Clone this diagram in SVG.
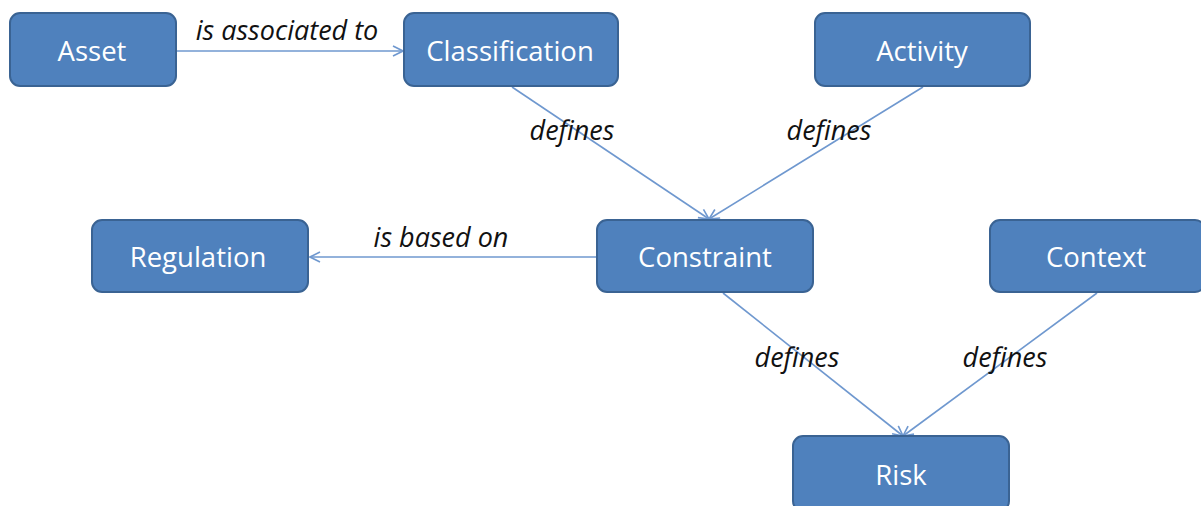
<svg xmlns="http://www.w3.org/2000/svg" width="1201" height="506" viewBox="0 0 1201 506">
<style>
.node rect{fill:#4f81bd;stroke:#3a6393;stroke-width:2}
.node text{fill:#fff;font-family:"Open Sans","Liberation Sans",sans-serif;font-size:27.5px;text-anchor:middle;dominant-baseline:central}
.edge line{stroke:#6f98cf;stroke-width:1.6;fill:none;marker-end:url(#arr)}
.lbl{fill:#111;font-family:"Open Sans","Liberation Sans",sans-serif;font-size:27px;font-style:italic;text-anchor:middle}
</style>
<defs>
<marker id="arr" viewBox="0 0 12 12" refX="11" refY="6" markerWidth="12" markerHeight="12" markerUnits="userSpaceOnUse" orient="auto">
<path d="M1,1 L11,6 L1,11" fill="none" stroke="#6f98cf" stroke-width="1.6"/>
</marker>
</defs>
<rect width="1201" height="506" fill="#fff"/>
<g id="connectors" class="edge">
<line x1="176" y1="51" x2="403" y2="51"/>
<line x1="512" y1="87" x2="709" y2="219"/>
<line x1="923" y1="87" x2="709" y2="219"/>
<line x1="597" y1="257" x2="310" y2="257"/>
<line x1="723" y1="293" x2="903" y2="436"/>
<line x1="1097" y1="293" x2="903" y2="436"/>
</g>
<g id="labels">
<text class="lbl" x="287" y="40">is associated to</text>
<text class="lbl" x="572" y="140">defines</text>
<text class="lbl" x="829" y="140">defines</text>
<text class="lbl" x="441" y="247">is based on</text>
<text class="lbl" x="797" y="367">defines</text>
<text class="lbl" x="1005" y="367">defines</text>
</g>
<g id="asset" class="node"><rect x="10" y="13" width="166" height="73" rx="10"/><text x="92" y="50">Asset</text></g>
<g id="classification" class="node"><rect x="404" y="13" width="214" height="73" rx="10"/><text x="510" y="50">Classification</text></g>
<g id="activity" class="node"><rect x="815" y="13" width="215" height="73" rx="10"/><text x="922" y="50">Activity</text></g>
<g id="regulation" class="node"><rect x="92" y="220" width="216" height="72" rx="10"/><text x="198" y="256">Regulation</text></g>
<g id="constraint" class="node"><rect x="597" y="220" width="216" height="72" rx="10"/><text x="705" y="256">Constraint</text></g>
<g id="context" class="node"><rect x="990" y="220" width="215" height="72" rx="10"/><text x="1096" y="256">Context</text></g>
<g id="risk" class="node"><rect x="793" y="436" width="216" height="75" rx="10"/><text x="901" y="474">Risk</text></g>
</svg>
